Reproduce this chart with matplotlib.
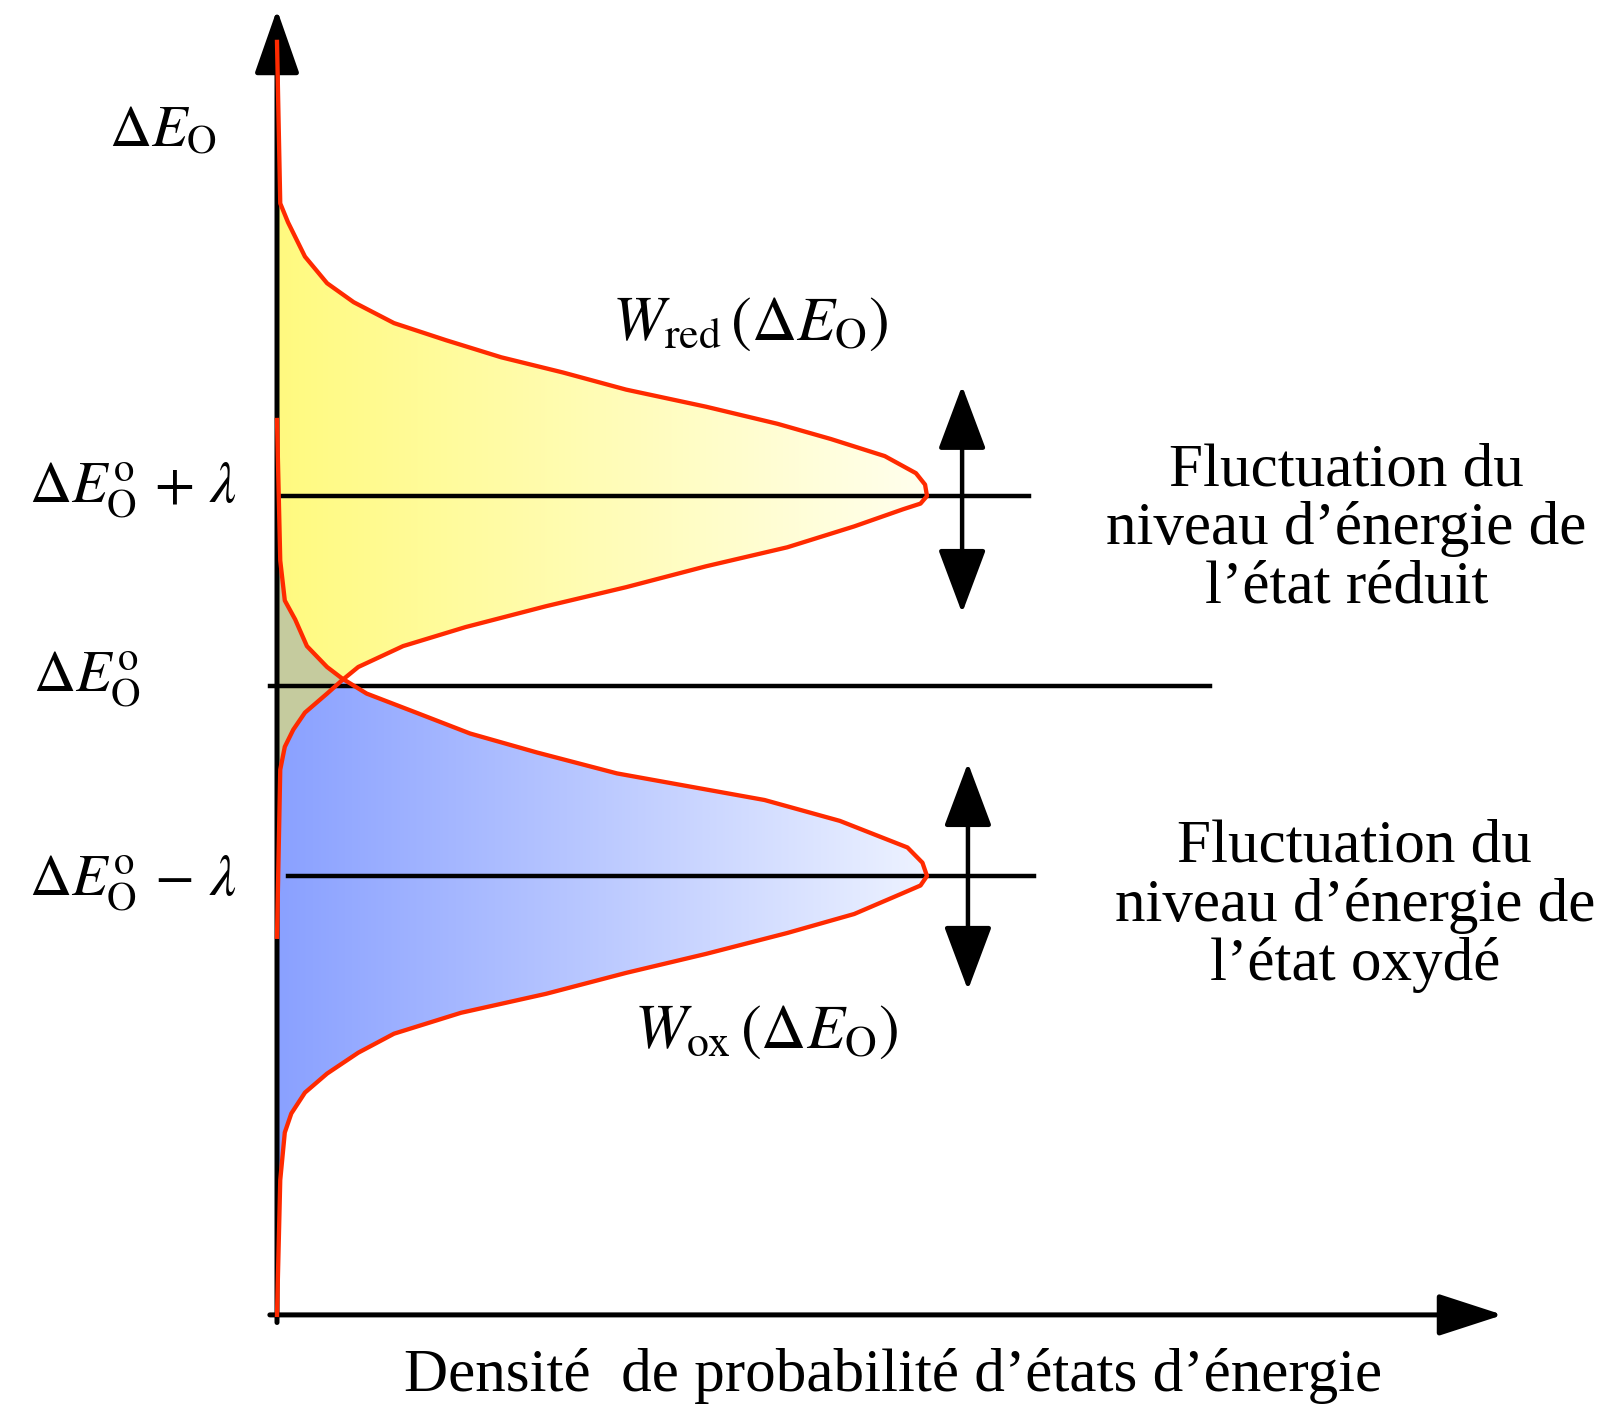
import numpy as np
import matplotlib
matplotlib.use("Agg")
import matplotlib.pyplot as plt
from matplotlib.patches import Polygon, FancyArrowPatch

plt.rcParams['font.family'] = ['Liberation Serif', 'DejaVu Serif']
plt.rcParams['mathtext.fontset'] = 'stix'

# energie (en unites de lambda, 0 = dE0) et densite
e_red = [3.39, 2.54, 2.44, 2.26, 2.12, 2.02, 1.91, 1.82, 1.73, 1.65, 1.56, 1.47,
         1.38, 1.30, 1.21, 1.12, 1.06, 1.0, 0.96, 0.93, 0.84, 0.73, 0.63, 0.52, 0.42, 0.31,
         0.21, 0.10, 0.03, -0.04, -0.14, -0.23, -0.32, -0.44, -1.32]
w_red = [0.0, 0.005, 0.017, 0.043, 0.077, 0.118, 0.18, 0.26, 0.345, 0.44, 0.537, 0.66,
         0.77, 0.852, 0.935, 0.983, 0.997, 1.0, 0.99, 0.963, 0.888, 0.785, 0.66, 0.537, 0.414, 0.29,
         0.194, 0.125, 0.10, 0.077, 0.043, 0.025, 0.012, 0.005, 0.0]

e_ox = [1.40, 0.66, 0.45, 0.35, 0.21, 0.10, 0.04, -0.04, -0.14, -0.25, -0.35, -0.46,
        -0.60, -0.71, -0.85, -0.93, -1.0, -1.05, -1.09, -1.20, -1.30, -1.41, -1.51, -1.62, -1.72,
        -1.83, -1.93, -2.04, -2.14, -2.25, -2.35, -2.60, -3.31]
w_ox = [0.0, 0.005, 0.012, 0.028, 0.046, 0.077, 0.10, 0.138, 0.214, 0.297, 0.40, 0.523,
        0.75, 0.866, 0.97, 0.993, 1.0, 0.99, 0.963, 0.888, 0.785, 0.66, 0.537, 0.414, 0.283,
        0.18, 0.125, 0.077, 0.043, 0.022, 0.012, 0.005, 0.0]

e_cross = 0.035
niveaux = [1.0, 0.0, -1.0]

e_red = np.array(e_red); w_red = np.array(w_red)
e_ox = np.array(e_ox); w_ox = np.array(w_ox)

fig = plt.figure(figsize=(16.01, 14.06), dpi=100)
ax = fig.add_axes([0, 0, 1, 1])
ax.axis('off')


def remplir(ax, x, y, c1, c2, zo):
    verts = np.column_stack([np.r_[0, x, 0], np.r_[y[0], y, y[-1]]])
    patch = Polygon(verts, closed=True, facecolor='none', edgecolor='none')
    ax.add_patch(patch)
    t = np.linspace(0, 1, 256)[:, None]
    img = (1 - t) * np.array(c1) + t * np.array(c2)
    im = ax.imshow(img[None, :, :], extent=[0, x.max(), y.min(), y.max()],
                   aspect='auto', origin='lower', zorder=zo, interpolation='bilinear')
    im.set_clip_path(patch)


remplir(ax, w_red, e_red, (1.0, 0.98, 0.50), (1.0, 1.0, 0.93), 1)
remplir(ax, w_ox, e_ox, (0.54, 0.63, 1.0), (0.93, 0.95, 1.0), 1)

# zone de recouvrement
m_ox = (e_ox >= e_cross) & (w_ox > 0)
m_red = (e_red <= e_cross) & (w_red > 0)
xs = np.r_[0, w_ox[m_ox], w_red[m_red], 0]
ys = np.r_[e_ox[m_ox][0], e_ox[m_ox], e_red[m_red], e_red[m_red][-1]]
ax.add_patch(Polygon(np.column_stack([xs, ys]), closed=True,
                     facecolor='#c5cb9e', edgecolor='none', zorder=1.5))

# axes
ax.add_patch(FancyArrowPatch((0, -3.35), (0, 3.56), arrowstyle='-|>,head_length=40,head_width=14',
                             mutation_scale=1, lw=3.6, color='black', shrinkA=0, shrinkB=0, zorder=2))
ax.add_patch(FancyArrowPatch((-0.011, -3.31), (1.886, -3.31), arrowstyle='-|>,head_length=40,head_width=13',
                             mutation_scale=1, lw=3.6, color='black', shrinkA=0, shrinkB=0, zorder=2))

ax.plot([0.006, 1.157], [niveaux[0]] * 2, color='black', lw=3.2, zorder=2)
ax.plot([-0.011, 1.435], [niveaux[1]] * 2, color='black', lw=3.2, zorder=2)
ax.plot([0.017, 1.165], [niveaux[2]] * 2, color='black', lw=3.2, zorder=2)

for xa, y1, y2 in [(1.054, 1.58, 0.384), (1.063, -0.405, -1.6)]:
    ax.add_patch(FancyArrowPatch((xa, y1), (xa, y2), arrowstyle='<|-|>,head_length=40,head_width=15',
                                 mutation_scale=1, lw=3.2, color='black', shrinkA=0, shrinkB=0, zorder=2))

ax.plot(w_red, e_red, color='#ff2a00', lw=3.1, zorder=3)
ax.plot(w_ox, e_ox, color='#ff2a00', lw=3.1, zorder=3)

ax.set_xlim(-277 / 650, (1601 - 277) / 650)
ax.set_ylim((686 - 1406) / 190, 686 / 190)

fs = 42
ax.text(-0.175, 2.91, r'$\Delta E_{\mathrm{O}}$', fontsize=fs, ha='center', va='center')
ax.text(-0.2215, 1.03, r'$\Delta E_{\mathrm{O}}^{\mathrm{o}}\,+\,\lambda$', fontsize=fs, ha='center', va='center')
ax.text(-0.292, 0.037, r'$\Delta E_{\mathrm{O}}^{\mathrm{o}}$', fontsize=fs, ha='center', va='center')
ax.text(-0.2215, -1.037, r'$\Delta E_{\mathrm{O}}^{\mathrm{o}}\,-\,\lambda$', fontsize=fs, ha='center', va='center')
ax.text(0.728, 1.9, r'$W_{\mathrm{red}}\,\left(\Delta E_{\mathrm{O}}\right)$', fontsize=45, ha='center', va='center')
ax.text(0.752, -1.826, r'$W_{\mathrm{ox}}\,\left(\Delta E_{\mathrm{O}}\right)$', fontsize=45, ha='center', va='center')

ax.text(1.645, 0.826, 'Fluctuation du\nniveau d\u2019\u00e9nergie de\nl\u2019\u00e9tat r\u00e9duit',
        fontsize=44, ha='center', va='center', linespacing=1.07)
ax.text(1.658, -1.158, 'Fluctuation du\nniveau d\u2019\u00e9nergie de\nl\u2019\u00e9tat oxyd\u00e9',
        fontsize=44, ha='center', va='center', linespacing=1.07)
ax.text(0.948, -3.63, 'Densit\u00e9  de probabilit\u00e9 d\u2019\u00e9tats d\u2019\u00e9nergie',
        fontsize=44, ha='center', va='center')

fig.savefig('out.png', dpi=100)
